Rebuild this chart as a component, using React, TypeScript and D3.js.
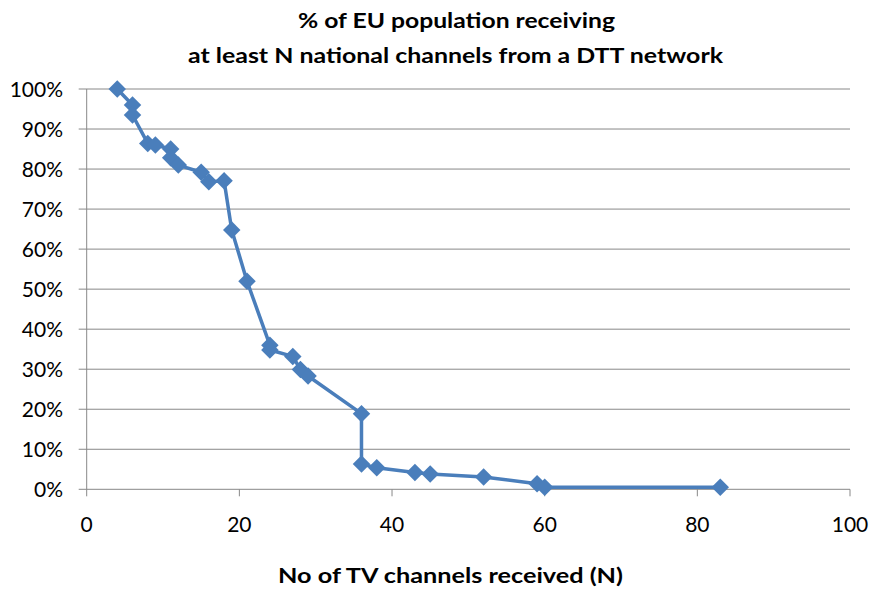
import React from "react";
import * as d3 from "d3";

const channels = [4, 6, 6, 8, 9, 11, 11, 12, 15, 16, 18, 19, 21, 24, 24, 27, 28, 29, 36, 36, 38, 43, 45, 52, 59, 60, 83];
const population = [100, 96, 93.5, 86.4, 86, 85, 82.8, 81, 79.2, 76.8, 77.1, 64.8, 52, 36, 34.8, 33.2, 29.9, 28.3, 18.9, 6.3, 5.4, 4.2, 3.8, 3.1, 1.4, 0.5, 0.5];
const xTicks = [0, 20, 40, 60, 80, 100];
const yTicks = [0, 10, 20, 30, 40, 50, 60, 70, 80, 90, 100];
const titleLines = ["% of EU population receiving", "at least N national channels from a DTT network"];
const xTitle = "No of TV channels received (N)";

const W = 873, H = 589;
const left = 86.7, right = 850, top = 89, bottom = 489.3;
const FONT = "Lato, 'Liberation Sans', sans-serif";
const BLUE = "#4a7ebb";
const titleSpans = [[298, 615, 28], [188, 723, 63]];

export default function App() {
  const x = d3.scaleLinear().domain([0, 100]).range([left, right]);
  const y = d3.scaleLinear().domain([0, 100]).range([bottom, top]);
  const pts = channels.map((c, i) => [x(c), y(population[i])] as [number, number]);
  const line = d3.line()(pts) || "";
  const diamond = d3.symbol().type(d3.symbolDiamond2).size(195)() || "";
  return (
    <svg width={W} height={H} style={{ position: "absolute", left: 0, top: 0, background: "#fff" }}>
      <rect width={W} height={H} fill="#fff" />
      {yTicks.map((t) => (
        <g key={"y" + t}>
          <line x1={left - 8} x2={right} y1={y(t)} y2={y(t)} stroke="#888" strokeWidth={1} />
          <text x={63} y={y(t)} dy="0.36em" textAnchor="end" fontFamily={FONT} fontSize={21} fill="#000">{t + "%"}</text>
        </g>
      ))}
      <line x1={left} x2={left} y1={top} y2={bottom} stroke="#888" strokeWidth={1} />
      {xTicks.map((t) => (
        <g key={"x" + t}>
          <line x1={x(t)} x2={x(t)} y1={bottom} y2={bottom + 7} stroke="#888" strokeWidth={1} />
          <text x={x(t)} y={532} textAnchor="middle" fontFamily={FONT} fontSize={21} fill="#000">{t}</text>
        </g>
      ))}
      <path d={line} fill="none" stroke={BLUE} strokeWidth={3.5} strokeLinejoin="round" />
      {pts.map((p, i) => (
        <path key={i} d={diamond} transform={`translate(${p[0]},${p[1]})`} fill={BLUE} />
      ))}
      {titleLines.map((t, i) => (
        <text key={t} x={titleSpans[i][0]} y={titleSpans[i][2]} textLength={titleSpans[i][1] - titleSpans[i][0]} lengthAdjust="spacingAndGlyphs" fontFamily={FONT} fontWeight="bold" fontSize={21} fill="#000">{t}</text>
      ))}
      <text x={278} y={583} textLength={345} lengthAdjust="spacingAndGlyphs" fontFamily={FONT} fontWeight="bold" fontSize={21} fill="#000">{xTitle}</text>
    </svg>
  );
}
